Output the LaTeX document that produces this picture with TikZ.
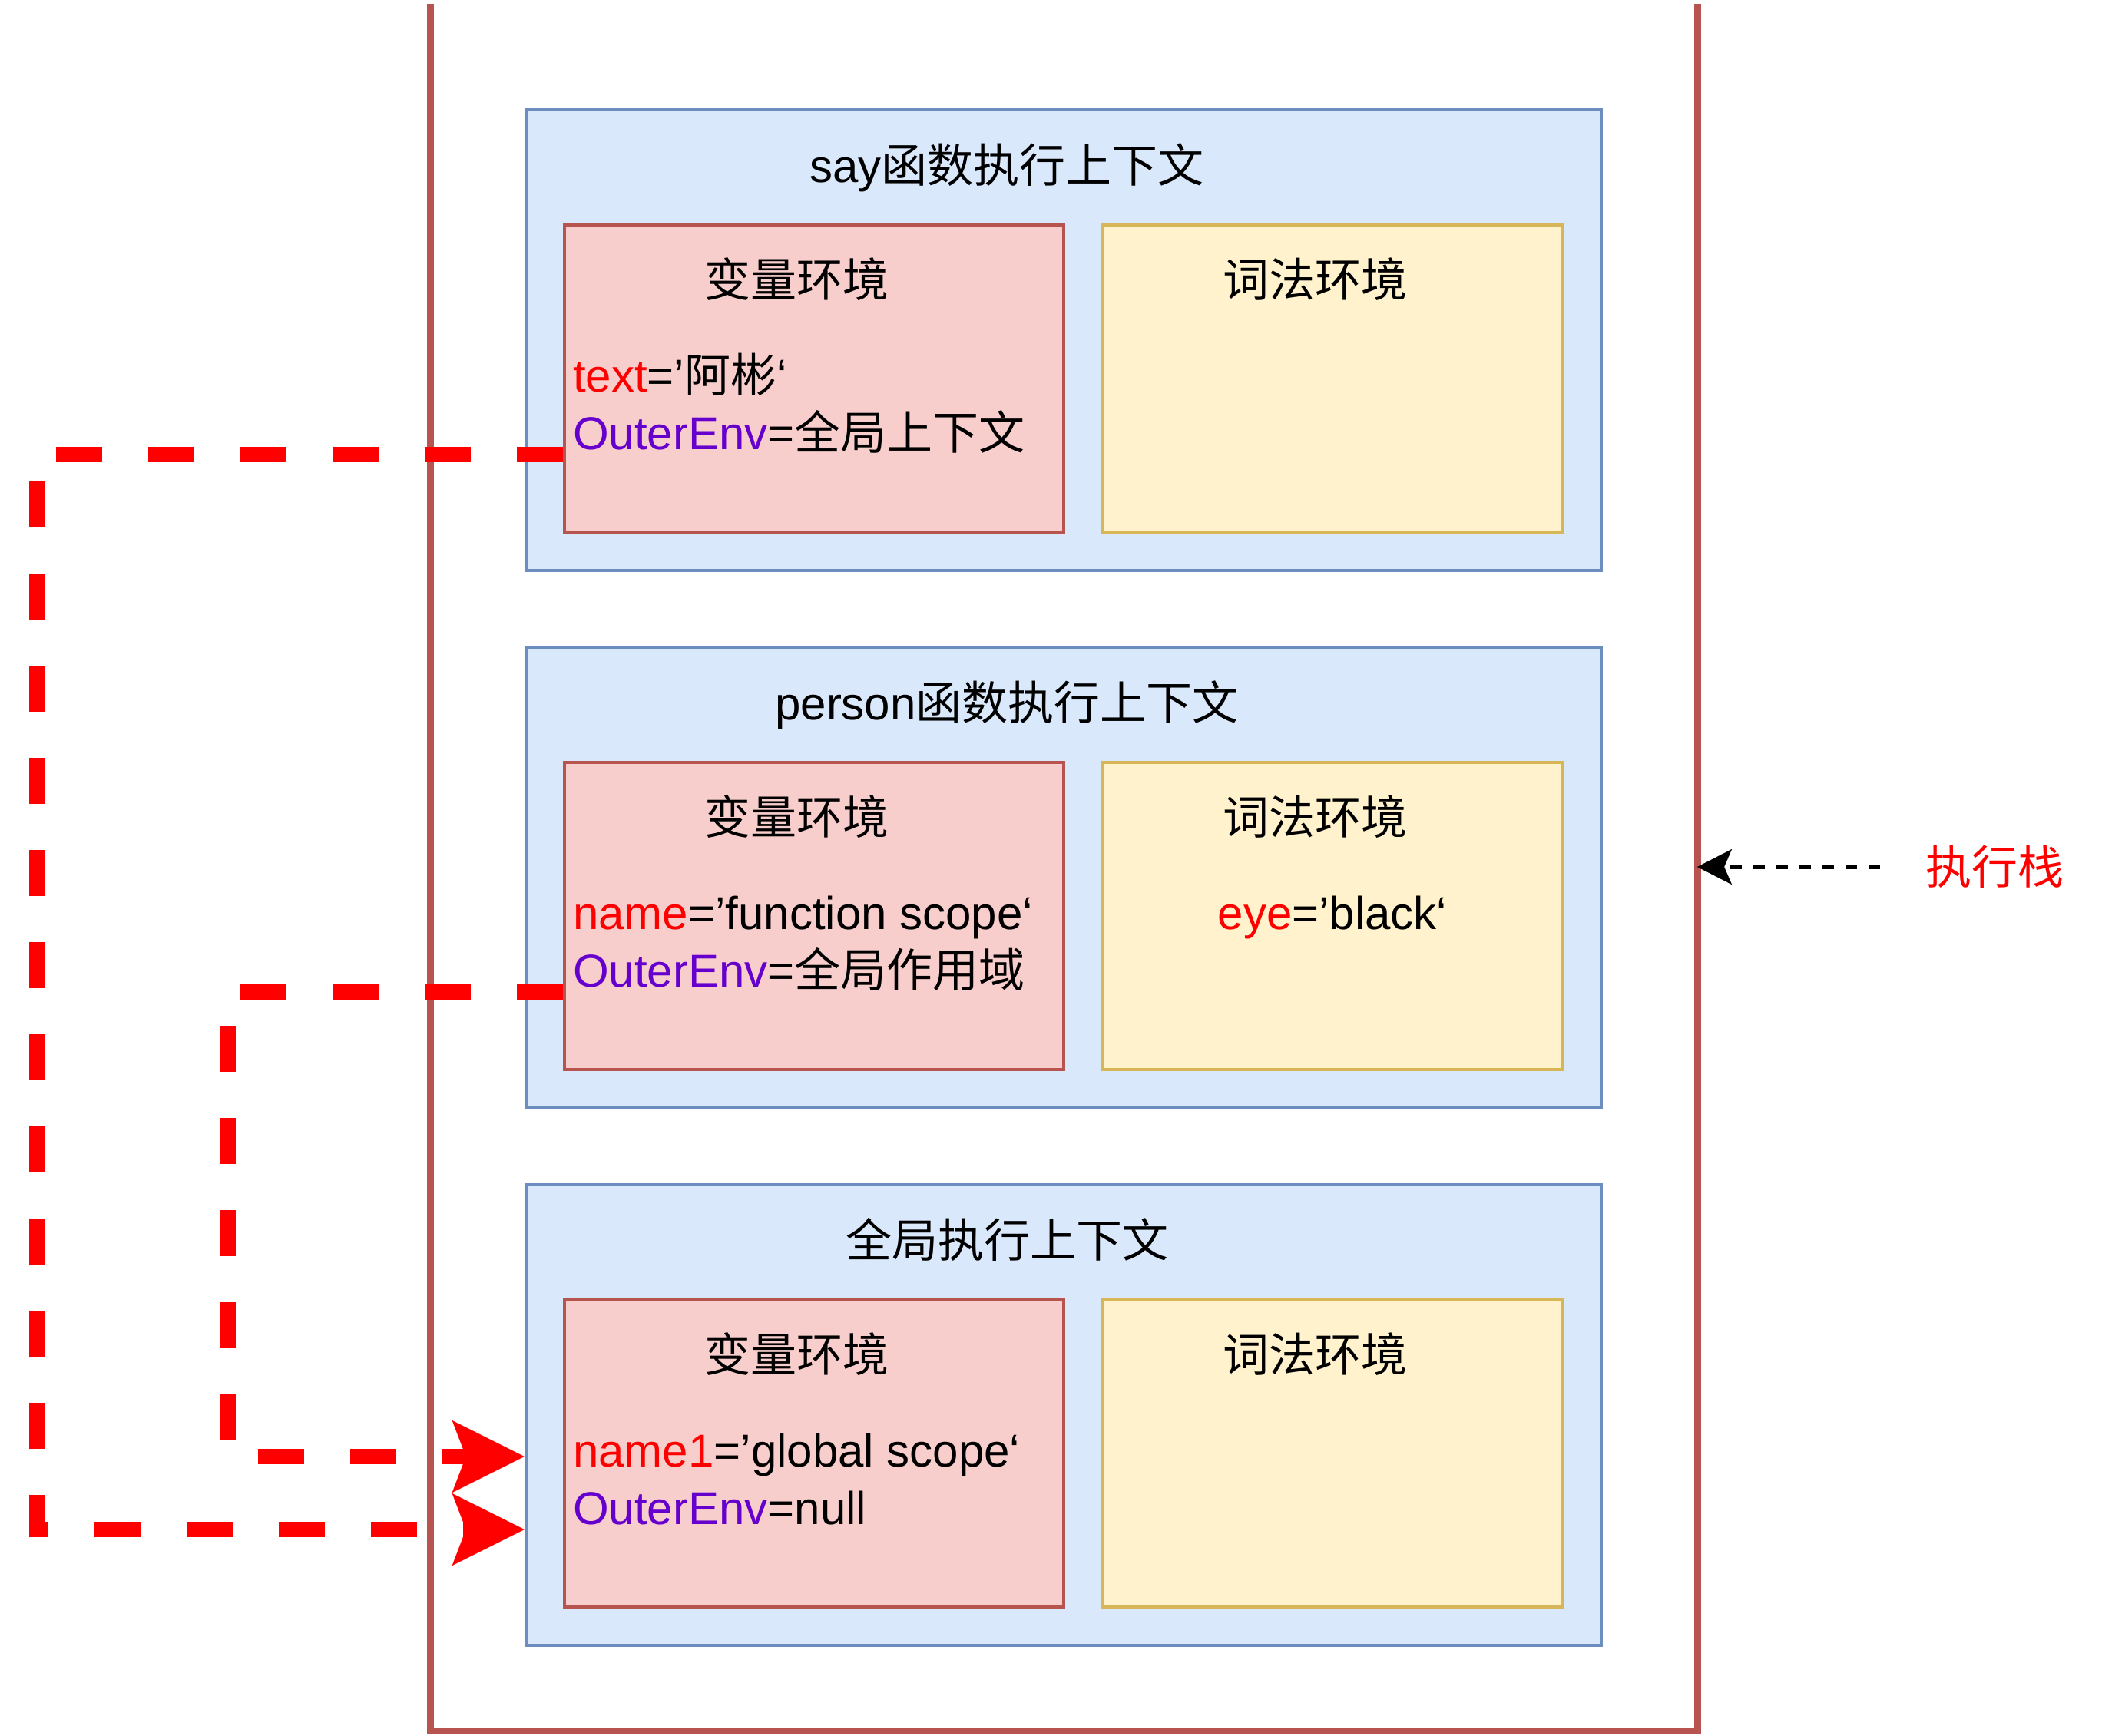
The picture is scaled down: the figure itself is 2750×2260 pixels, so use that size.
\documentclass[tikz,border=0pt]{standalone}
\usepackage{fontspec}
\setmainfont{Liberation Sans}
\newfontfamily\cjk{Noto Sans CJK SC}
\usetikzlibrary{arrows.meta}
\definecolor{ctxfill}{HTML}{DAE8FC}
\definecolor{ctxline}{HTML}{6C8EBF}
\definecolor{varfill}{HTML}{F8CECC}
\definecolor{varline}{HTML}{B85450}
\definecolor{lexfill}{HTML}{FFF2CC}
\definecolor{lexline}{HTML}{D6B656}
\definecolor{envpurple}{HTML}{6600CC}
\definecolor{flowred}{HTML}{FF0000}
\begin{document}
\begin{tikzpicture}[x=1pt,y=-1pt,
  txt/.style={font=\fontsize{60}{75}\selectfont, inner sep=0pt, anchor=base},
  ctx/.style={draw=ctxline, fill=ctxfill, line width=4.5pt, minimum width=1400pt, minimum height=600pt, inner sep=0pt},
  varbox/.style={draw=varline, fill=varfill, line width=4.5pt, minimum width=650pt, minimum height=400pt, inner sep=0pt},
  lexbox/.style={draw=lexline, fill=lexfill, line width=4.5pt, minimum width=600pt, minimum height=400pt, inner sep=0pt},
  flow/.style={draw=flowred, line width=20pt, dash pattern=on 60pt off 60pt,
    -{Stealth[length=94pt, width=94pt, inset=18pt, line width=0.1pt, fill=flowred, color=flowred]}},
  stackarrow/.style={draw=black, line width=5.5pt, dash pattern=on 15pt off 15pt,
    -{Stealth[length=45pt, width=46pt, inset=10pt, line width=0.1pt]}},
  stackwall/.style={draw=varline, line width=9pt},
]
\useasboundingbox (0,0) rectangle (2750,2260);

% execution stack outline (open at top)
\coordinate (stackTL) at (560,5);
\coordinate (stackBL) at (560,2254);
\coordinate (stackBR) at (2210,2254);
\coordinate (stackTR) at (2210,5);
\draw[stackwall] (stackTL) -- (stackBL) -- (stackBR) -- (stackTR);

% context boxes
\node[ctx] (sayctx) at (1385,443) {};
\node[ctx] (perctx) at (1385,1143) {};
\node[ctx] (gctx) at (1385,1843) {};

\node[varbox] (sayvar) at (1060,493) {};
\node[varbox] (pervar) at (1060,1193) {};
\node[varbox] (gvar) at (1060,1893) {};

\node[lexbox] (saylex) at (1735,493) {};
\node[lexbox] (perlex) at (1735,1193) {};
\node[lexbox] (glex) at (1735,1893) {};

% titles
\node[txt] (saytitle) at (1311,237) {say{\cjk 函数执行上下文}};
\node[txt] (pertitle) at (1311,937) {person{\cjk 函数执行上下文}};
\node[txt] (gtitle) at (1311,1637) {\cjk 全局执行上下文};

\node[txt] (sayvart) at (1037,386) {\cjk 变量环境};
\node[txt] (pervart) at (1037,1086) {\cjk 变量环境};
\node[txt] (gvart) at (1037,1786) {\cjk 变量环境};

\node[txt] (saylext) at (1712,386) {\cjk 词法环境};
\node[txt] (perlext) at (1712,1086) {\cjk 词法环境};
\node[txt] (glext) at (1712,1786) {\cjk 词法环境};

% contents
\node[txt, anchor=base west] (saytext) at (746,510) {\textcolor{flowred}{text}=’{\cjk 阿彬}‘};
\node[txt, anchor=base west] (sayouter) at (746,585) {\textcolor{envpurple}{OuterEnv}={\cjk 全局上下文}};
\node[txt, anchor=base west] (pername) at (746,1210) {\textcolor{flowred}{name}=’function scope‘};
\node[txt, anchor=base west] (perouter) at (746,1285) {\textcolor{envpurple}{OuterEnv}={\cjk 全局作用域}};
\node[txt] (pereye) at (1735,1210) {\textcolor{flowred}{eye}=’black‘};
\node[txt, anchor=base west] (gname) at (746,1910) {\textcolor{flowred}{name1}=’global scope‘};
\node[txt, anchor=base west] (gouter) at (746,1985) {\textcolor{envpurple}{OuterEnv}=null};

% stack label
\node[txt, text=flowred] (stacklabel) at (2597,1151) {\cjk 执行栈};
\coordinate (stackarrowstart) at (2448,1129);
\draw[stackarrow] (stackarrowstart) -- (stackTR |- stackarrowstart);

% outer environment references
\coordinate (c1a) at (48,592);
\coordinate (c1b) at (48,1992);
\draw[flow] ([yshift=-99pt]sayvar.west) -- (c1a) -- (c1b) -- (gctx.west |- c1b);
\coordinate (c2a) at (297,1292);
\coordinate (c2b) at (297,1897);
\draw[flow] ([yshift=-99pt]pervar.west) -- (c2a) -- (c2b) -- (gctx.west |- c2b);
\end{tikzpicture}
\end{document}
